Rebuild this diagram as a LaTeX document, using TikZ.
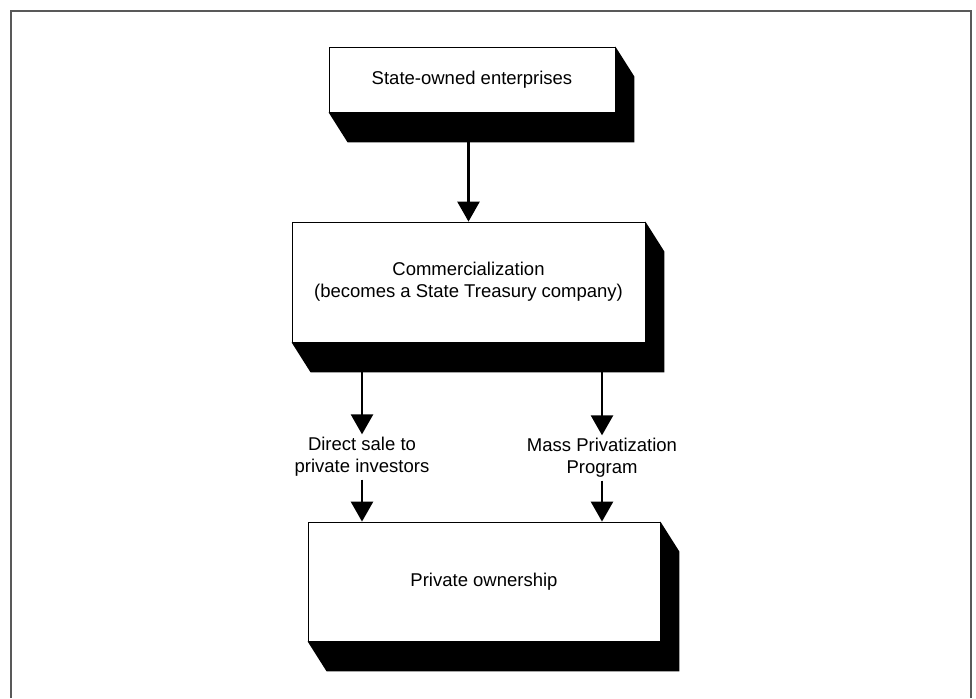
\documentclass[tikz,border=0pt]{standalone}
\usepackage{fontspec}
\setmainfont{Liberation Sans}
\usetikzlibrary{calc, arrows.meta}

% solid extrusion below and right of a box
\newcommand{\slab}[1]{%
	\fill (#1.south west) -- ++(19,30) -| ($(#1.north east)+(19,30)$) -- (#1.north east) -- (#1.south east) -- cycle;}

\begin{document}
\begin{tikzpicture}[
			x = 1pt, y = -1pt,
			every node/.style = {font = \fontsize{18.5}{21.7}\selectfont, align = center},
			stagebox/.style = {draw, fill = white, line width = 0.8pt, inner sep = 0pt},
			pathlabel/.style = {inner sep = 3pt},
			flow/.style = {line width = 2.6pt, -{Triangle[length = 20pt, width = 22pt]}},
			frame/.style = {draw = black!65, line width = 2pt}]
			\useasboundingbox (0,0) rectangle (976,698);
			\draw[frame] (11,698) -- (11,11) -- (971,11) -- (971,698);

			\node[stagebox, minimum width = 286pt, minimum height = 65pt] (soe) at (472,79.5) {State-owned enterprises};
			\node[stagebox, minimum width = 353pt, minimum height = 120pt] (comm) at (468.5,282) {Commercialization\\(becomes a State Treasury company)};
			\node[stagebox, minimum width = 352pt, minimum height = 119pt] (priv) at (484,581.5) {Private ownership};
			\slab{soe}
			\slab{comm}
			\slab{priv}

			% Labels
			\node[pathlabel] (direct) at (362,457) {Direct sale to\\private investors};
			\node[pathlabel] (mpp) at (602,458) {Mass Privatization\\Program};

			\coordinate (soebase) at ([yshift=-30pt]soe.south);
			\coordinate (commbase) at ([yshift=-30pt]comm.south);
			\draw[flow] (comm.north |- soebase) -- (comm.north);
			\draw[flow] (direct.north |- commbase) -- (direct.north);
			\draw[flow] (mpp.north |- commbase) -- (mpp.north);
			\draw[flow] (direct.south) -- (direct.south |- priv.north);
			\draw[flow] (mpp.south) -- (mpp.south |- priv.north);
		\end{tikzpicture}
\end{document}
